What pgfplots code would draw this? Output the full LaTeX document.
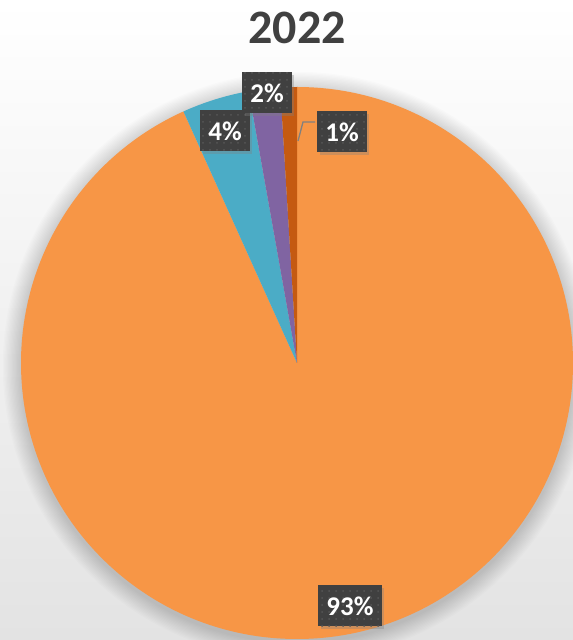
\documentclass[border=0pt]{standalone}
\usepackage{fontspec}
\setmainfont{Carlito}
\usepackage{pgfplots}
\pgfplotsset{compat=1.18}
\usetikzlibrary{shadows,patterns.meta}

\definecolor{cOr}{HTML}{F79646}
\definecolor{cBl}{HTML}{4BACC6}
\definecolor{cPu}{HTML}{8064A2}
\definecolor{cDk}{HTML}{C55A11}
\definecolor{txt}{HTML}{404040}
\definecolor{dotc}{HTML}{565656}

\tikzset{
  lbl/.style={fill=txt, text=white, font=\bfseries\fontsize{27}{27}\selectfont,
    minimum height=41pt, inner xsep=8pt,
    drop shadow={opacity=0.35, shadow xshift=2.5pt, shadow yshift=-2.5pt},
    postaction={pattern={Dots[distance=7pt, radius=1pt]}, pattern color=dotc}},
}

\begin{document}
\begin{tikzpicture}
\begin{axis}[
  name=ax,
  scale only axis,
  width=573pt, height=640pt,
  xmin=-297, xmax=276,
  ymin=-277, ymax=363,
  hide axis,
  clip=false,
]
\pgfplotsextra{
  % background
  \shade[top color=white, middle color=black!6, bottom color=black!11]
    (axis cs:-297,-277) rectangle (axis cs:276,363);
  % soft shadow round the pie
  \foreach \i in {1,...,14}{
    \fill[black, opacity=0.012] (axis cs:0,-3) circle[radius=276pt+\i*1.3pt];
  }
  % slices, clockwise from twelve o'clock, values in percent
  \gdef\curang{90}
  \foreach \v/\c in {93.25/cOr, 3.95/cBl, 1.83/cPu, 0.97/cDk}{
    \pgfmathsetmacro\endang{\curang-3.6*\v}
    \fill[\c] (axis cs:0,0) -- ++(\curang:276pt)
      arc[start angle=\curang, end angle=\endang, radius=276pt] -- cycle;
    \xdef\curang{\endang}
  }
  % leader line of the 1% label
  \draw[black!50, line width=1.3pt] (axis cs:18,241) -- (axis cs:6,241) -- (axis cs:1,222);
}
\node[lbl] at (axis cs:53,-243) {93\%};
\node[lbl] at (axis cs:-72,232) {4\%};
\node[lbl] at (axis cs:-30,270) {2\%};
\node[lbl] at (axis cs:45,231) {1\%};
\node[text=txt, font=\bfseries\fontsize{48}{48}\selectfont] at (axis cs:0,335) {2022};
\end{axis}
\pgfresetboundingbox
\path[use as bounding box] (ax.south west) rectangle (ax.north east);
\end{tikzpicture}
\end{document}
